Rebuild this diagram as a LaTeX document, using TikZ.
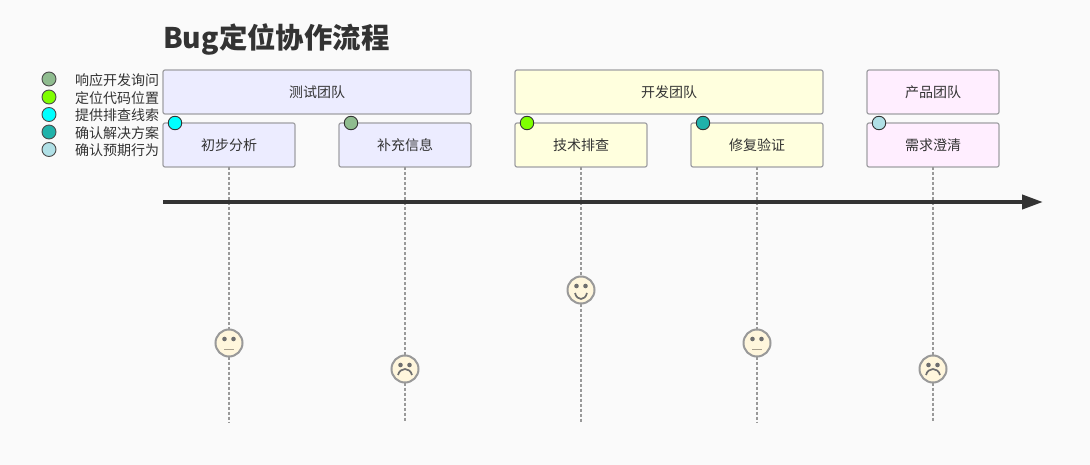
\documentclass[tikz,border=0pt]{standalone}
\usepackage{fontspec}
\setmainfont{Noto Sans CJK SC}
\usetikzlibrary{arrows.meta}
\definecolor{pagebg}{HTML}{FAFAFA}
\definecolor{textgray}{HTML}{333333}
\definecolor{boxline}{HTML}{A0A0A4}
\definecolor{teamblue}{HTML}{ECECFF}
\definecolor{teamyellow}{HTML}{FFFFDE}
\definecolor{teampink}{HTML}{FFEEFF}
\definecolor{facefill}{HTML}{FFF6DC}
\definecolor{faceline}{HTML}{999999}
\definecolor{eyegray}{HTML}{6E6E6E}
\definecolor{mouthtan}{HTML}{A89F8C}
\definecolor{respond}{HTML}{8FBC8F}
\definecolor{locate}{HTML}{7FFF00}
\definecolor{clue}{HTML}{00FFFF}
\definecolor{confirm}{HTML}{20B2AA}
\definecolor{expect}{HTML}{B0E0E6}
\tikzset{
    boxbase/.style={draw=boxline, line width=1.2pt, rounded corners=2pt, text=textgray,
        font=\fontsize{14}{16}\selectfont, outer sep=0pt, inner sep=0pt},
    teambox/.style={boxbase, minimum height=44pt},
    taskbox/.style={boxbase, minimum width=132pt, minimum height=44pt},
    legendtext/.style={text=textgray, anchor=west, inner sep=0pt, font=\fontsize{14}{16}\selectfont},
    legenddot/.style={circle, draw=black!70, line width=0.9pt, minimum size=14pt, inner sep=0pt},
    markerdot/.style={circle, draw=black!80, line width=0.9pt, minimum size=13.5pt, inner sep=0pt},
    facenode/.style={circle, draw=faceline, fill=facefill, line width=2pt, minimum size=27pt, inner sep=0pt, outer sep=0pt},
    timeline/.style={draw=faceline, line width=1.6pt, dash pattern=on 3pt off 2pt},
    mouthline/.style={draw=eyegray, line width=1.7pt},
}
\newcommand{\faceeyes}[1]{%
    \fill[eyegray] ([shift={(-4.5,-4)}]#1) circle (2.3pt);
    \fill[eyegray] ([shift={(4.5,-4)}]#1) circle (2.3pt);
}
\begin{document}
\begin{tikzpicture}[x=1pt, y=-1pt]
    \useasboundingbox[fill=pagebg] (0,0) rectangle (1090,465);
    \node[anchor=west, inner sep=0pt, text=textgray, font=\fontsize{28.4}{34}\selectfont\bfseries] (title) at (163,39.5) {Bug定位协作流程};
    % legend
    \foreach \name/\ypos/\col/\lab in {a/79/respond/响应开发询问, b/97/locate/定位代码位置, c/114.5/clue/提供排查线索, d/132/confirm/确认解决方案, e/149.5/expect/确认预期行为} {
        \node[legenddot, fill=\col] (dot\name) at (49,\ypos) {};
        \node[legendtext] (lab\name) at (75,\ypos+1) {\lab};
    }
    % teams
    \node[teambox, fill=teamblue, minimum width=308pt] (testteam) at (317,92) {测试团队};
    \node[teambox, fill=teamyellow, minimum width=308pt] (devteam) at (669,92) {开发团队};
    \node[teambox, fill=teampink, minimum width=132pt] (prodteam) at (933,92) {产品团队};
    % tasks
    \node[taskbox, fill=teamblue] (analyse) at (229,145) {初步分析};
    \node[taskbox, fill=teamblue] (supply) at (405,145) {补充信息};
    \node[taskbox, fill=teamyellow] (inspect) at (581,145) {技术排查};
    \node[taskbox, fill=teamyellow] (verify) at (757,145) {修复验证};
    \node[taskbox, fill=teampink] (clarify) at (933,145) {需求澄清};
    \node[markerdot, fill=clue] (mka) at (175,123) {};
    \node[markerdot, fill=respond] (mkb) at (351,123) {};
    \node[markerdot, fill=locate] (mkc) at (527,123) {};
    \node[markerdot, fill=confirm] (mkd) at (703,123) {};
    \node[markerdot, fill=expect] (mke) at (879,123) {};
    % faces
    \node[facenode] (facea) at (229,343) {};
    \node[facenode] (faceb) at (405,369) {};
    \node[facenode] (facec) at (581,290) {};
    \node[facenode] (faced) at (757,343) {};
    \node[facenode] (facee) at (933,369) {};
    \coordinate (enda) at (229,422);
    \coordinate (endb) at (405,422);
    \coordinate (endc) at (581,422);
    \coordinate (endd) at (757,422);
    \coordinate (ende) at (933,422);
    \foreach \task/\tag in {analyse/a, supply/b, inspect/c, verify/d, clarify/e} {
        \draw[timeline] (\task.south) -- (face\tag.north);
        \draw[timeline] (face\tag.south) -- (end\tag);
        \faceeyes{face\tag}
    }
    \draw[draw=mouthtan, line width=1pt] ([shift={(-5,6.5)}]facea.center) -- ([shift={(5,6.5)}]facea.center);
    \draw[draw=mouthtan, line width=1pt] ([shift={(-5,6.5)}]faced.center) -- ([shift={(5,6.5)}]faced.center);
    \draw[mouthline] ([shift={(-7,6)}]faceb.center) .. controls ([shift={(-5,-2)}]faceb.center) and ([shift={(5,-2)}]faceb.center) .. ([shift={(7,6)}]faceb.center);
    \draw[mouthline] ([shift={(-7,6)}]facee.center) .. controls ([shift={(-5,-2)}]facee.center) and ([shift={(5,-2)}]facee.center) .. ([shift={(7,6)}]facee.center);
    \draw[mouthline] ([shift={(-6,3)}]facec.center) .. controls ([shift={(-4,11)}]facec.center) and ([shift={(4,11)}]facec.center) .. ([shift={(6,3)}]facec.center);
    % axis
    \coordinate (axisstart) at (163,202);
    \coordinate (axisend) at (1043,202);
    \draw[-{Triangle[length=21pt,width=14pt]}, draw=textgray, fill=textgray, line width=4pt] (axisstart) -- (axisend);
\end{tikzpicture}
\end{document}
